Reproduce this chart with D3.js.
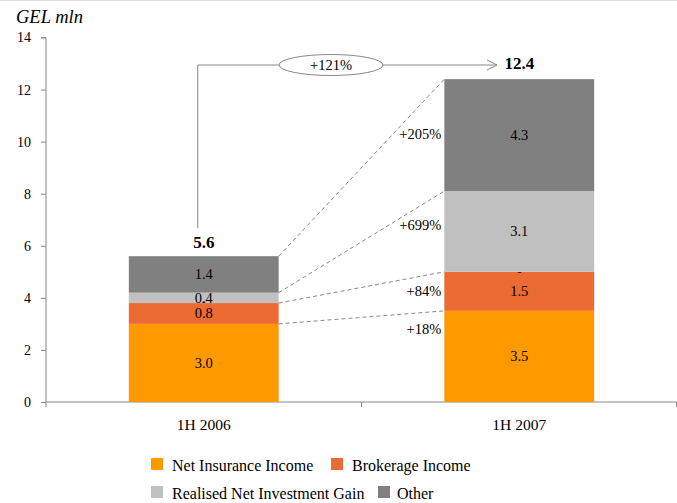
<!DOCTYPE html>
<html><head><meta charset="utf-8">
<script src="https://cdn.jsdelivr.net/npm/d3@7"></script>
<style>body{margin:0;background:#fff}svg{display:block}text{font-family:"Liberation Serif","Times New Roman",serif}</style>
</head><body><div id="c"></div>
<script>
const categories = ["1H 2006", "1H 2007"];
const seriesNames = ["Net Insurance Income", "Brokerage Income", "Realised Net Investment Gain", "Other"];
const netInsurance = [3.0, 3.5];
const brokerage = [0.8, 1.5];
const realisedGain = [0.4, 3.1];
const other = [1.4, 4.3];
const totals = [5.6, 12.4];
const growthLabels = ["+18%", "+84%", "+699%", "+205%"];
const totalGrowth = "+121%";
const yTicks = [0, 2, 4, 6, 8, 10, 12, 14];
const colors = ["#FF9900", "#EB6B33", "#C0C0C0", "#808080"];

const W = 677, H = 503;
const svg = d3.select("#c").append("svg").attr("width", W).attr("height", H);
const x = d3.scaleBand().domain(categories).range([46, 677]).padding(0);
const y = d3.scaleLinear().domain([0, 14]).range([402, 37.5]);
const barW = x.bandwidth() * 0.475;

// frame line at top
svg.append("line").attr("x1", 0).attr("x2", W).attr("y1", 0.5).attr("y2", 0.5).attr("stroke", "#ddd");

const seriesVals = [netInsurance, brokerage, realisedGain, other];
const table = categories.map((c, i) => {
  const o = {cat: c};
  seriesNames.forEach((s, k) => o[s] = seriesVals[k][i]);
  return o;
});
const stacked = d3.stack().keys(seriesNames)(table);

// y axis
const yAxis = svg.append("g").attr("transform", "translate(46,0)")
  .call(d3.axisLeft(y).tickValues(yTicks).tickSize(5).tickPadding(10));
yAxis.select(".domain").attr("stroke", "#888").attr("d", `M-5,${y(14)}H0V${y(0)}`);
yAxis.selectAll(".tick line").attr("stroke", "#888");
yAxis.selectAll(".tick text").attr("font-size", 14).attr("fill", "#000").attr("font-family", "Liberation Serif");

// x axis
const xAxisG = svg.append("g").attr("transform", `translate(0,${y(0)})`);
xAxisG.append("line").attr("x1", 46).attr("x2", 677).attr("stroke", "#888");
[46, x(categories[1]), 676.5].forEach(px =>
  xAxisG.append("line").attr("x1", px).attr("x2", px).attr("y1", 0).attr("y2", 5).attr("stroke", "#888"));
xAxisG.selectAll("text.cat").data(categories).join("text")
  .attr("x", d => x(d) + x.bandwidth() / 2).attr("y", 28)
  .attr("text-anchor", "middle").attr("font-size", 15.5).text(d => d);

// bars
const cx = c => x(c) + x.bandwidth() / 2;
stacked.forEach((layer, k) => {
  svg.append("g").selectAll("rect").data(layer).join("rect")
    .attr("x", d => cx(d.data.cat) - barW / 2)
    .attr("width", barW)
    .attr("y", d => y(d[1]))
    .attr("height", d => y(d[0]) - y(d[1]))
    .attr("fill", colors[k]);
});
// value labels
stacked.forEach((layer, k) => {
  svg.append("g").selectAll("text").data(layer).join("text")
    .attr("x", d => cx(d.data.cat))
    .attr("y", d => y((d[0] + d[1]) / 2) + 5)
    .attr("text-anchor", "middle").attr("font-size", 14.5)
    .text(d => d3.format(".1f")(d[1] - d[0]));
});
// small "-" labels (hidden series)
categories.forEach((c, i) => {
  svg.append("text").attr("x", cx(c)).attr("y", y(stacked[1][i][1]) + (i === 0 ? 2 : 3))
    .attr("text-anchor", "middle").attr("font-size", 11).text("-");
});

// totals
categories.forEach((c, i) => {
  svg.append("text").attr("x", cx(c) + (i === 1 ? 0 : 0)).attr("y", y(totals[i]) - (i === 0 ? 8 : 10))
    .attr("text-anchor", "middle").attr("font-size", 17).attr("font-weight", "bold").text(totals[i].toFixed(1));
});

// dashed connectors
const x0r = cx(categories[0]) + barW / 2, x1l = cx(categories[1]) - barW / 2;
stacked.forEach((layer, k) => {
  svg.append("line").attr("x1", x0r).attr("y1", y(layer[0][1]))
    .attr("x2", x1l).attr("y2", y(layer[1][1]))
    .attr("stroke", "#888").attr("stroke-dasharray", "4,3");
});
// growth labels
const growthAt = [2.8, 4.25, 6.8, 10.3];
growthLabels.forEach((g, k) => {
  svg.append("text").attr("x", x1l - 3).attr("y", y(growthAt[k]) + 5)
    .attr("text-anchor", "end").attr("font-size", 14.5).text(g);
});

// total growth arrow
const ax = cx(categories[0]) - 6, ay = y(totals[0]) - 28, hy = 65;
const ellCx = 331, ellRx = 52, ellRy = 10.5;
svg.append("path").attr("d", `M${ax},${ay}V${hy}H${ellCx - ellRx}`).attr("fill", "none").attr("stroke", "#888");
svg.append("path").attr("d", `M${ellCx + ellRx},${hy}H497`).attr("fill", "none").attr("stroke", "#888");
svg.append("path").attr("d", `M487,${hy - 5}L497,${hy}L487,${hy + 5}`).attr("fill", "none").attr("stroke", "#888");
svg.append("ellipse").attr("cx", ellCx).attr("cy", hy).attr("rx", ellRx).attr("ry", ellRy)
  .attr("fill", "#fff").attr("stroke", "#888");
svg.append("text").attr("x", ellCx).attr("y", hy + 5).attr("text-anchor", "middle").attr("font-size", 14.5).text(totalGrowth);

// axis title
svg.append("text").attr("x", 16).attr("y", 23).attr("font-size", 18.5).attr("font-style", "italic").text("GEL mln");

// legend
const legPos = [[151, 467], [331, 467], [151, 495], [378, 495]];
seriesNames.forEach((s, k) => {
  const [lx, ly] = legPos[k];
  svg.append("rect").attr("x", lx).attr("y", ly - 9).attr("width", 12).attr("height", 12).attr("fill", colors[k]);
  svg.append("text").attr("x", lx + (k === 3 ? 19 : 21)).attr("y", ly + 4).attr("font-size", 16).text(s);
});
</script></body></html>
